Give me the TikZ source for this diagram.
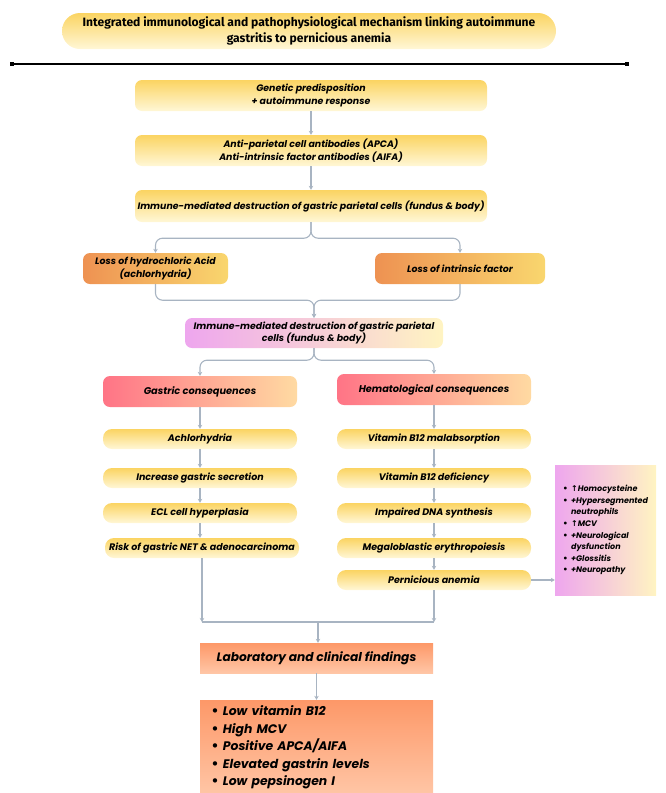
\documentclass[tikz,border=0pt]{standalone}
\usepackage{fontspec}
\setmainfont{Poppins}
\newfontfamily\titlefont{Fira Sans}
\newfontfamily\symfont{DejaVu Sans}
\usetikzlibrary{arrows.meta}

\definecolor{pillTop}{RGB}{251,212,98}
\definecolor{pillBot}{RGB}{255,247,214}
\definecolor{lossL}{RGB}{238,146,82}
\definecolor{lossR}{RGB}{249,214,110}
\definecolor{pinkL}{RGB}{238,166,238}
\definecolor{pinkR}{RGB}{255,244,194}
\definecolor{redL}{RGB}{255,116,134}
\definecolor{redR}{RGB}{255,218,162}
\definecolor{labTop}{RGB}{253,152,104}
\definecolor{labBot}{RGB}{255,198,166}
\definecolor{lineGray}{RGB}{168,180,194}

\newcommand{\sym}[1]{{\symfont #1}}

\begin{document}
\begin{tikzpicture}[x=1pt, y=-1pt,
        box/.style={rectangle, rounded corners=7pt, inner sep=0pt, align=center,
            font=\fontsize{9.4}{12.5}\selectfont\bfseries\itshape},
        wide/.style={box, top color=pillTop, bottom color=pillBot, minimum width=352pt, minimum height=31pt},
        pill/.style={box, rounded corners=9pt, top color=pillTop, bottom color=pillBot, minimum width=194pt, minimum height=20pt,
            font=\fontsize{9.5}{12}\selectfont\bfseries\itshape},
        loss/.style={box, left color=lossL, right color=lossR, minimum height=31pt},
        head/.style={box, left color=redL, right color=redR, minimum width=194pt, minimum height=31pt,
            font=\fontsize{9.8}{12}\selectfont\bfseries\itshape},
        labbox/.style={rectangle, inner sep=0pt, top color=labTop, bottom color=labBot, minimum width=233pt},
        arrow/.style={-{Stealth[length=4pt, width=4.5pt]}, draw=lineGray, line width=1.1pt},
        line/.style={draw=lineGray, line width=1.1pt},
        endsq/.style={rectangle, fill=black, inner sep=0pt, minimum size=4pt}
    ]
        \useasboundingbox (0,0) rectangle (666,793);

        % Title
        \node[box, rounded corners=18pt, minimum width=494pt, minimum height=36pt,
            top color=pillTop, bottom color=pillBot,
            font=\titlefont\fontsize{12.1}{15.5}\selectfont\bfseries] (title) at (309,31)
            {Integrated immunological and pathophysiological mechanism linking autoimmune\\gastritis to pernicious anemia};
        \node[endsq] (ruleL) at (12,64) {};
        \node[endsq] (ruleR) at (627,64) {};
        \draw[line width=1.2pt] (ruleL) -- (ruleR);

        % Autoimmune cascade
        \node[wide] (genetic) at (311,95.5) {Genetic predisposition\\+ autoimmune response};
        \node[wide] (antibodies) at (311,150.5) {Anti-parietal cell antibodies (APCA)\\Anti-intrinsic factor antibodies (AIFA)};
        \node[wide, minimum height=32pt] (destruction) at (311,206) {Immune-mediated destruction of gastric parietal cells (fundus \& body)};

        \node[loss, minimum width=145pt] (hcl) at (155.5,268.5) {Loss of hydrochloric Acid\\(achlorhydria)};
        \node[loss, minimum width=170pt] (intrinsic) at (460,268.5) {Loss of intrinsic factor};

        \node[box, left color=pinkL, right color=pinkR, minimum width=258pt, minimum height=30pt] (parietal) at (314,333)
            {Immune-mediated destruction of gastric parietal\\cells (fundus \& body)};

        \draw[arrow] (genetic) -- (antibodies);
        \draw[arrow] (antibodies) -- (destruction);
        \draw[arrow, rounded corners=7pt] (destruction.south) -- ++(0,16) -| (hcl.north);
        \draw[arrow, rounded corners=7pt] (destruction.south) -- ++(0,16) -| (intrinsic.north);
        \draw[arrow, rounded corners=7pt] (hcl.south) -- ++(0,16) -| (parietal.north);
        \draw[arrow, rounded corners=7pt] (intrinsic.south) -- ++(0,16) -| (parietal.north);

        % Gastric branch
        \node[head] (gastric) at (200,391.5) {Gastric consequences};
        \node[pill] (achlor) at (200,439) {Achlorhydria};
        \node[pill] (secretion) at (200,478) {Increase gastric secretion};
        \node[pill] (ecl) at (200,513) {ECL cell hyperplasia};
        \node[pill] (risk) at (202,548) {Risk of gastric NET \& adenocarcinoma};

        % Hematological branch
        \node[head] (hemat) at (434,389.5) {Hematological consequences};
        \node[pill] (malabs) at (434,439) {Vitamin B12 malabsorption};
        \node[pill] (deficiency) at (434,478) {Vitamin B12 deficiency};
        \node[pill] (dna) at (434,513) {Impaired DNA synthesis};
        \node[pill] (megalo) at (434,548) {Megaloblastic erythropoiesis};
        \node[pill] (pern) at (434,580) {Pernicious anemia};

        \node[rectangle, inner sep=0pt, left color=pinkL, right color=pinkR, minimum width=101pt, minimum height=130pt,
            font=\fontsize{8}{11.6}\selectfont\bfseries\itshape] (signs) at (605.5,530)
            {\begin{tabular}{@{}l@{\hspace{3pt}}l@{}}
                \sym{•} & \sym{↑}Homocysteine\\
                \sym{•} & +Hypersegmented\\
                        & neutrophils\\
                \sym{•} & \sym{↑}MCV\\
                \sym{•} & +Neurological\\
                        & dysfunction\\
                \sym{•} & +Glossitis\\
                \sym{•} & +Neuropathy
            \end{tabular}};

        \draw[arrow, rounded corners=7pt] (parietal.south) -- ++(0,12) -| (gastric.north);
        \draw[arrow, rounded corners=7pt] (parietal.south) -- ++(0,12) -| (hemat.north);
        \draw[arrow] (gastric) -- (achlor);
        \draw[arrow] (achlor) -- (secretion);
        \draw[arrow] (secretion) -- (ecl);
        \draw[arrow] (ecl) -- (ecl |- risk.north);
        \draw[arrow] (hemat) -- (malabs);
        \draw[arrow] (malabs) -- (deficiency);
        \draw[arrow] (deficiency) -- (dna);
        \draw[arrow] (dna) -- (megalo);
        \draw[arrow] (megalo) -- (pern);
        \draw[arrow] (pern.east) -- (pern.east -| signs.west);

        % Findings
        \coordinate (joinL) at (202,622);
        \coordinate (joinR) at (434,622);
        \coordinate (joinM) at (318,622);
        \node[labbox, minimum height=30pt, font=\fontsize{12.2}{14}\selectfont\bfseries\itshape] (lab) at (316.5,658)
            {Laboratory and clinical findings};
        \node[labbox, minimum height=95pt, text width=211pt, align=left,
            font=\fontsize{12.4}{17.6}\selectfont\bfseries\itshape] (findings) at (316.5,747.5)
            {\sym{•}\hspace{4pt}Low vitamin B12\\
             \sym{•}\hspace{4pt}High MCV\\
             \sym{•}\hspace{4pt}Positive APCA/AIFA\\
             \sym{•}\hspace{4pt}Elevated gastrin levels\\
             \sym{•}\hspace{4pt}Low pepsinogen I};

        \draw[arrow] (risk) -- (joinL);
        \draw[arrow] (pern) -- (joinR);
        \draw[line] (joinL) -- (joinR);
        \draw[arrow] (joinM) -- (joinM |- lab.north);
        \draw[arrow] (lab) -- (findings);
    \end{tikzpicture}
\end{document}
